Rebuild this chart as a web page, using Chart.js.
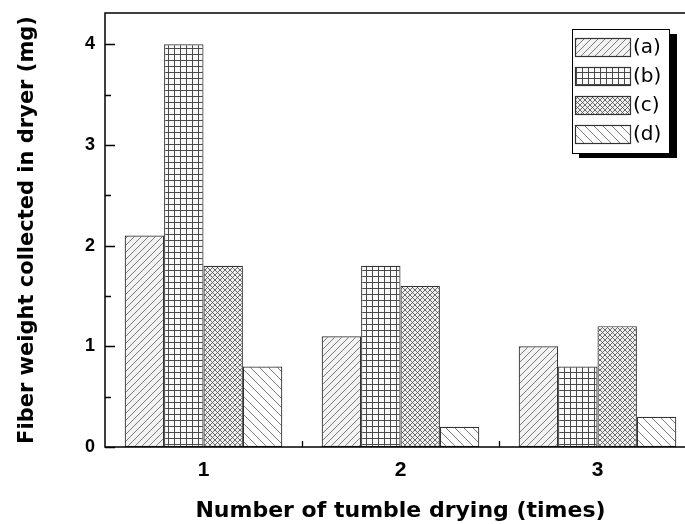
<!DOCTYPE html>
<html>
<head>
<meta charset="utf-8">
<script src="https://cdn.jsdelivr.net/npm/chart.js@4/dist/chart.umd.min.js"></script>
<style>
html,body{margin:0;padding:0;overflow:hidden;background:#fff;width:685px;height:524px;}
#wrap{width:697px;height:524px;}
</style>
</head>
<body>
<div id="wrap"><canvas id="c" width="697" height="524"></canvas></div>
<script>
const categories = ['1', '2', '3'];
const seriesLabels = ['(a)', '(b)', '(c)', '(d)'];
const valuesA = [2.1, 1.1, 1.0];
const valuesB = [4.0, 1.8, 0.8];
const valuesC = [1.8, 1.6, 1.2];
const valuesD = [0.8, 0.2, 0.3];
const yTickValues = [0, 1, 2, 3, 4];
const yMax = 4.31;

function makePattern(size, bg, color, lw, kinds) {
  const c = document.createElement('canvas');
  c.width = size; c.height = size;
  const x = c.getContext('2d');
  x.fillStyle = bg; x.fillRect(0, 0, size, size);
  x.strokeStyle = color; x.lineWidth = lw;
  x.beginPath();
  kinds.forEach(k => {
    if (k === '/') {
      x.moveTo(-1, size + 1); x.lineTo(size + 1, -1);
      x.moveTo(-1, 1); x.lineTo(1, -1);
      x.moveTo(size - 1, size + 1); x.lineTo(size + 1, size - 1);
    } else if (k === '\\') {
      x.moveTo(-1, -1); x.lineTo(size + 1, size + 1);
      x.moveTo(size - 1, -1); x.lineTo(size + 1, 1);
      x.moveTo(-1, size - 1); x.lineTo(1, size + 1);
    } else if (k === '+') {
      x.moveTo(0.5, 0); x.lineTo(0.5, size);
      x.moveTo(0, 0.5); x.lineTo(size, 0.5);
    }
  });
  x.stroke();
  return x.createPattern(c, 'repeat');
}

const patA = makePattern(7, '#f3f3f3', '#6e6e6e', 0.9, ['/']);
const patB = makePattern(6, '#fafafa', '#4a4a4a', 1, ['+']);
const patC = makePattern(5, '#f0f0f0', '#4a4a4a', 0.8, ['/', '\\']);
const patD = makePattern(9, '#ffffff', '#6e6e6e', 0.9, ['\\']);

const frameTicks = {
  id: 'frameTicks',
  afterDatasetsDraw(chart) {
    const ctx = chart.ctx;
    const a = chart.chartArea;
    const y = chart.scales.y, x = chart.scales.x;
    ctx.save();
    ctx.strokeStyle = '#000';
    ctx.lineWidth = 1.5;
    ctx.strokeRect(a.left, a.top, a.right - a.left, a.bottom - a.top);
    ctx.beginPath();
    for (let v = 0; v <= 4.0001; v += 0.5) {
      const py = Math.round(y.getPixelForValue(v)) + 0.5;
      const len = Number.isInteger(v) ? 10 : 6;
      ctx.moveTo(a.left, py); ctx.lineTo(a.left + len, py);
    }
    for (let i = 0; i < categories.length - 1; i++) {
      const px = Math.round((x.getPixelForValue(i) + x.getPixelForValue(i + 1)) / 2) + 0.5;
      ctx.moveTo(px, a.bottom); ctx.lineTo(px, a.bottom - 6);
    }
    ctx.lineWidth = 1.3;
    ctx.stroke();
    ctx.restore();
  },
  afterDraw(chart) {
    const ctx = chart.ctx;
    const bx = 572, by = 29, bw = 97, bh = 124;
    ctx.save();
    ctx.fillStyle = '#000';
    ctx.fillRect(bx + 7, by + 5, bw + 1, bh);
    ctx.fillStyle = '#fff';
    ctx.fillRect(bx, by, bw, bh);
    ctx.strokeStyle = '#000';
    ctx.lineWidth = 1;
    ctx.strokeRect(bx + 0.5, by + 0.5, bw, bh);
    ctx.font = '20px "DejaVu Sans"';
    ctx.textBaseline = 'middle';
    ctx.textAlign = 'left';
    chart.data.datasets.forEach((ds, i) => {
      const sy = by + 9 + i * 29;
      ctx.fillStyle = ds.backgroundColor;
      ctx.fillRect(bx + 3, sy, 55, 18);
      ctx.strokeStyle = '#333';
      ctx.lineWidth = 1.2;
      ctx.strokeRect(bx + 3.5, sy + 0.5, 55, 18);
      ctx.fillStyle = '#000';
      ctx.fillText(ds.label, bx + 61, sy + 10);
    });
    ctx.restore();
  }
};

new Chart(document.getElementById('c'), {
  type: 'bar',
  data: {
    labels: categories,
    datasets: [
      { label: seriesLabels[0], data: valuesA, backgroundColor: patA },
      { label: seriesLabels[1], data: valuesB, backgroundColor: patB },
      { label: seriesLabels[2], data: valuesC, backgroundColor: patC },
      { label: seriesLabels[3], data: valuesD, backgroundColor: patD }
    ]
  },
  options: {
    responsive: false,
    animation: false,
    devicePixelRatio: 1,
    layout: { padding: { left: 0, right: 1, top: 13, bottom: 0 } },
    datasets: {
      bar: { categoryPercentage: 0.8, barPercentage: 1.0, borderColor: '#333', borderWidth: 1.2, borderSkipped: false }
    },
    plugins: { legend: { display: false }, tooltip: { enabled: false } },
    scales: {
      x: {
        grid: { display: false },
        border: { display: false },
        ticks: { color: '#000', padding: 3, font: { family: '"Liberation Sans", Arial', weight: 'bold', size: 21 } },
        title: { display: true, text: 'Number of tumble drying (times)', color: '#000', padding: { top: 2, bottom: 0 },
                 font: { family: '"DejaVu Sans"', weight: 'bold', size: 22 } },
        afterFit(s) { s.height = 77; s.paddingLeft = 0; s.paddingRight = 0; }
      },
      y: {
        min: 0, max: yMax,
        grid: { display: false },
        border: { display: false },
        ticks: { color: '#000', padding: 2, stepSize: 1, font: { family: '"Liberation Sans", Arial', weight: 'bold', size: 18 } },
        afterBuildTicks(s) { s.ticks = yTickValues.map(v => ({ value: v })); },
        title: { display: true, text: 'Fiber weight collected in dryer (mg)', color: '#000', padding: { top: 15, bottom: 0 },
                 font: { family: '"DejaVu Sans"', weight: 'bold', size: 21 } },
        afterFit(s) { s.width = 105; s.paddingTop = 0; s.paddingBottom = 0; }
      }
    }
  },
  plugins: [frameTicks]
});
</script>
</body>
</html>
